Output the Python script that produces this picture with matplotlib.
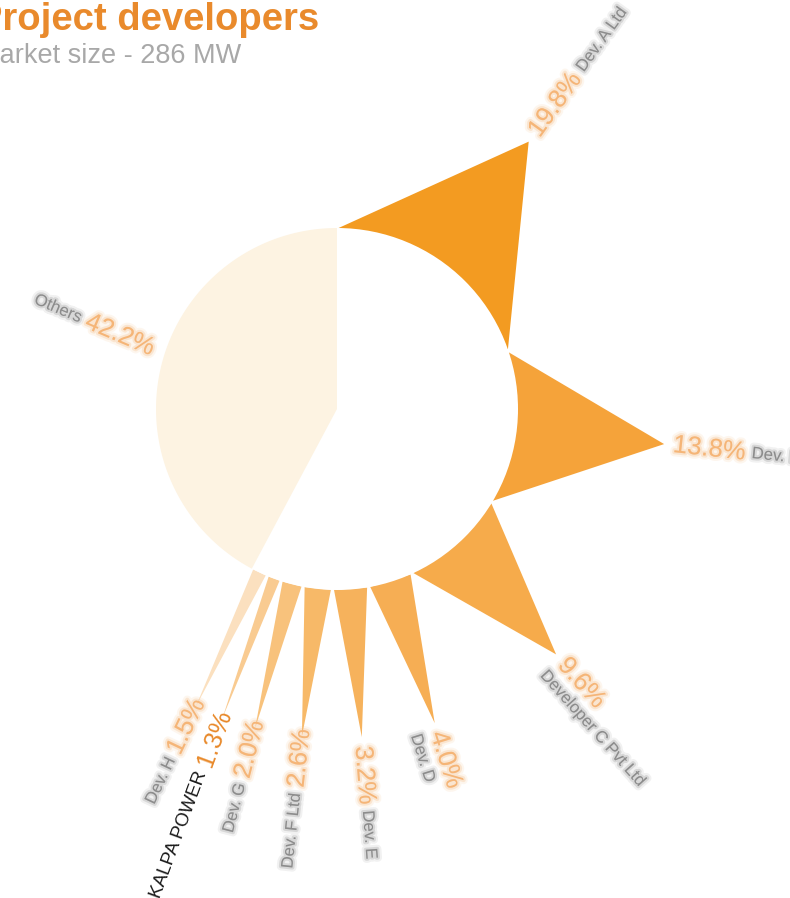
import numpy as np
import matplotlib.pyplot as plt
from matplotlib.patches import Polygon, Circle
import matplotlib.patheffects as pe

plt.rcParams['font.family'] = ['Liberation Sans', 'DejaVu Sans']

# market shares, clockwise from 12 o'clock (names of most developers are unreadable in the source)
developers = ['Dev. A Ltd', 'Dev. B', 'Developer C Pvt Ltd', 'Dev. D', 'Dev. E',
              'Dev. F Ltd', 'Dev. G', 'KALPA POWER', 'Dev. H', 'Others']
shares = [19.8, 13.8, 9.6, 4.0, 3.2, 2.6, 2.0, 1.3, 1.5, 42.2]
title = 'Project developers'
market_size = 286  # MW

# styling
spike_colors = ['#f39b21', '#f5a33a', '#f6ab4b', '#f6ae54', '#f6b25c',
                '#f7b968', '#f8c27c', '#f9cb91', '#fbe0bf']
others_color = '#fdf3e2'
stacked = [False, False, True, True, False, False, False, False, False]
crisp = [False] * 7 + [True, False]

W, H = 790, 898
cx, cy = 337, 409      # centre of the circle (pixels)
r_in = 181             # circle radius
r_tip = 329            # radius of spike tips
r_lab_right = 338      # where labels start on the right half
r_lab_left = 322       # where labels end on the left half
pad = 0.5              # angular inset of spike bases (deg)

fig = plt.figure(figsize=(W / 100, H / 100), dpi=100)
ax = fig.add_axes([0, 0, 1, 1])
ax.set_xlim(0, W)
ax.set_ylim(H, 0)
ax.axis('off')
renderer = fig.canvas.get_renderer()


def polar(r, theta):
    t = np.radians(theta)
    return cx + r * np.sin(t), cy - r * np.cos(t)


def text_len(s, **kw):
    t = ax.text(0, 0, s, **kw)
    w = t.get_window_extent(renderer).width
    t.remove()
    return w


def blur(c):
    return [pe.Stroke(linewidth=6, foreground=c, alpha=0.12),
            pe.Stroke(linewidth=3, foreground=c, alpha=0.25),
            pe.Normal()]


pct_kw = dict(fontsize=18.5)
name_kw = dict(fontsize=12)
kalpa_kw = dict(fontsize=13.5)

angles = np.cumsum([0] + shares) / 100 * 360
n_spikes = len(shares) - 1

for i in range(n_spikes):
    a0, a1 = angles[i], angles[i + 1]
    mid = (a0 + a1) / 2
    tri = [polar(r_in, a0 + pad), polar(r_tip, mid), polar(r_in, a1 - pad)]
    ax.add_patch(Polygon(tri, closed=True, facecolor=spike_colors[i],
                         edgecolor='none', zorder=1))

    pct = f'{shares[i]:.1f}%'
    name = developers[i]
    if crisp[i]:
        pc, nc, pe_p, pe_n = '#e8892a', '#1a1a1a', None, None
        nkw = kalpa_kw
    else:
        pc, nc = '#f5b577', '#8c8c8c'
        pe_p, pe_n = blur(pc), blur(nc)
        nkw = name_kw

    lp = text_len(pct, **pct_kw)
    gap = 6
    if mid < 180:
        rot = 90 - mid
        x, y = polar(r_lab_right, mid)
        ax.text(x, y, pct, rotation=rot, rotation_mode='anchor', ha='left',
                va='center', color=pc, path_effects=pe_p, **pct_kw)
        if stacked[i]:
            # name on a second line, shifted perpendicular to the ray
            t = np.radians(mid)
            dx, dy = np.cos(t) * 22, np.sin(t) * 22
            x, y = polar(r_lab_right - 4, mid)
            ax.text(x + dx, y + dy, name, rotation=rot, rotation_mode='anchor',
                    ha='left', va='center', color=nc, path_effects=pe_n, **nkw)
        else:
            x, y = polar(r_lab_right + lp + gap, mid)
            ax.text(x, y, name, rotation=rot, rotation_mode='anchor', ha='left',
                    va='center', color=nc, path_effects=pe_n, **nkw)
    else:
        rot = 270 - mid
        x, y = polar(r_lab_left, mid)
        ax.text(x, y, pct, rotation=rot, rotation_mode='anchor', ha='right',
                va='center', color=pc, path_effects=pe_p, **pct_kw)
        x, y = polar(r_lab_left + lp + gap, mid)
        ax.text(x, y, name, rotation=rot, rotation_mode='anchor', ha='right',
                va='center', color=nc, path_effects=pe_n, **nkw)

# white disc over the spike bases
ax.add_patch(Circle((cx, cy), r_in, facecolor='white', edgecolor='none', zorder=2))

# "Others" as a plain wedge
a0, a1 = angles[-2], angles[-1]
arc = np.linspace(a0, a1, 200)
pts = [(cx, cy)] + [polar(r_in, a) for a in arc]
ax.add_patch(Polygon(pts, closed=True, facecolor=others_color, edgecolor='none', zorder=3))

lab_ang = (a0 + a1) / 2 + 4
rot = -23
pct = f'{shares[-1]:.1f}%'
lp = text_len(pct, **pct_kw)
x, y = polar(r_in + 12, lab_ang)
ax.text(x, y, pct, rotation=rot, rotation_mode='anchor', ha='right', va='center',
        color='#f5b577', path_effects=blur('#f5b577'), **pct_kw)
t = np.radians(rot)
x2, y2 = x - (lp + 6) * np.cos(t), y + (lp + 6) * np.sin(t)
ax.text(x2, y2, developers[-1], rotation=rot, rotation_mode='anchor', ha='right',
        va='center', color='#8c8c8c', path_effects=blur('#8c8c8c'), **name_kw)

# title block (cut at the left edge as in the source)
ax.text(-23, 30, title, fontsize=27.5, weight='bold', color='#e98a2c', va='baseline')
ax.text(-23, 63, f'Market size - {market_size} MW', fontsize=19.5, color='#a8a8a8',
        va='baseline')

fig.savefig('out.png', dpi=100, facecolor='white')
